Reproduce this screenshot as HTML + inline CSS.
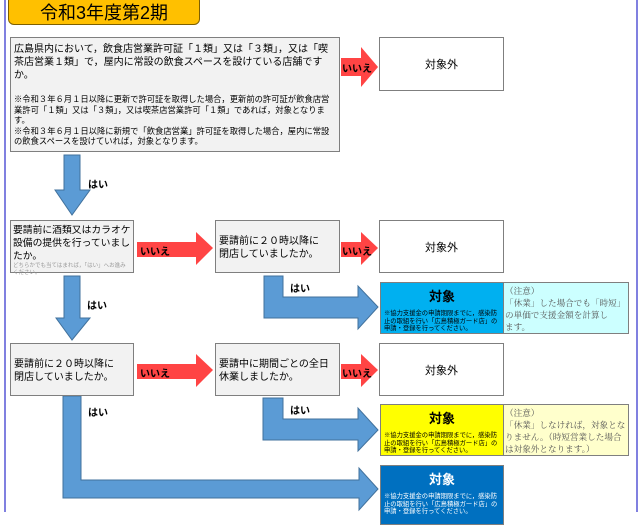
<!DOCTYPE html>
<html><head><meta charset="utf-8"><style>
body{margin:0;width:640px;height:512px;overflow:hidden;background:#fff;font-family:"Liberation Sans","Noto Sans CJK JP",sans-serif;position:relative}
.a{position:absolute;box-sizing:border-box}
.g{background:#f2f2f2;border:1px solid #7f7f7f;font-size:10px;line-height:13px;color:#000;padding:4px 3px}
.w{background:#fff;border:1px solid #7f7f7f;font-size:11px;display:flex;align-items:center;justify-content:center}
.t{border:1px solid #7f7f7f;text-align:center;font-size:6.3px;line-height:7.5px;text-align:left;padding:0 3px}
.t b{display:block;text-align:center;font-size:13px;line-height:16px;margin:6px 0 5px}
.n{border:1px solid #7f7f7f;font-family:"Liberation Serif","Noto Serif CJK SC",serif;font-size:8.6px;line-height:12px;color:#555;padding:2px 1px;white-space:nowrap;overflow:hidden}
.lb{position:absolute;font-size:10px;font-weight:bold}
</style></head><body>
<div class="a" style="left:4px;top:0;width:2px;height:512px;background:#8080e0"></div>
<div class="a" style="left:636px;top:0;width:2px;height:512px;background:#8080e0"></div>
<div class="a" style="left:8px;top:-5px;width:192px;height:30px;background:#ffc000;border:1px solid #7f6000;border-radius:6px;font-size:18px;display:flex;align-items:center;justify-content:center;padding-top:4px">令和3年度第2期</div>
<svg class="a" style="left:0;top:0" width="640" height="512">
<g fill="#ff4444">
<polygon points="341,58 361,58 361,47 378,67 361,87 361,76 341,76"/>
<polygon points="137,242 196,242 196,232 213,248 196,265 196,257 137,257"/>
<polygon points="341,242 361,242 361,232 378,248 361,265 361,257 341,257"/>
<polygon points="137,364 196,364 196,354 213,370 196,387 196,379 137,379"/>
<polygon points="341,364 361,364 361,354 378,370 361,387 361,379 341,379"/>
</g>
<g fill="#5b9bd5" stroke="#41719c" stroke-width="1">
<polygon points="64,155 80,155 80,190 90,190 72,215 55,190 64,190"/>
<polygon points="64,276 80,276 80,318 90,318 72,340 56,318 64,318"/>
<polygon points="264,276 283,276 283,297 358,297 358,286 378,307 358,329 358,318 264,318"/>
<polygon points="263,398 283,398 283,419 358,419 358,408 378,430 358,451 358,440 263,440"/>
<polygon points="63,396 81,396 81,480 359,480 359,468 378,489 359,510 359,498 63,498"/>
</g>
</svg>
<div class="lb" style="left:342px;top:60px">いいえ</div>
<div class="lb" style="left:140px;top:243px">いいえ</div>
<div class="lb" style="left:342px;top:243px">いいえ</div>
<div class="lb" style="left:140px;top:365px">いいえ</div>
<div class="lb" style="left:342px;top:365px">いいえ</div>
<div class="lb" style="left:88px;top:176px">はい</div>
<div class="lb" style="left:87px;top:297px">はい</div>
<div class="lb" style="left:290px;top:280px">はい</div>
<div class="lb" style="left:290px;top:402px">はい</div>
<div class="lb" style="left:88px;top:404px">はい</div>
<div class="a g" style="left:10px;top:37px;width:330px;height:115px;padding:5px 3px"><div style="font-size:10px;line-height:13px">広島県内において，飲食店営業許可証「１類」又は「３類」，又は「喫茶店営業１類」で，屋内に常設の飲食スペースを設けている店舗ですか。</div><div style="font-size:8.3px;line-height:10.5px;margin-top:12px">※令和３年６月１日以降に更新で許可証を取得した場合，更新前の許可証が飲食店営業許可「１類」又は「３類」，又は喫茶店営業許可「１類」であれば，対象となります。<br>※令和３年６月１日以降に新規で「飲食店営業」許可証を取得した場合，屋内に常設の飲食スペースを設けていれば，対象となります。</div></div>
<div class="a w" style="left:379px;top:37px;width:125px;height:54px">対象外</div>
<div class="a g" style="left:10px;top:220px;width:124px;height:53px;padding:3px 2px;font-size:9.8px;line-height:13px">要請前に酒類又はカラオケ設備の提供を行っていましたか。<div style="font-size:5.5px;line-height:6.5px;color:#999">どちらかでも当てはまれば，「はい」へお進みください。</div></div>
<div class="a g" style="left:215px;top:220px;width:125px;height:53px;padding-top:14px">要請前に２０時以降に<br>閉店していましたか。</div>
<div class="a w" style="left:379px;top:220px;width:125px;height:53px">対象外</div>
<div class="a t" style="left:380px;top:282px;width:124px;height:52px;background:#00b0f0"><b>対象</b>※協力支援金の申請期限までに，感染防止の取組を行い「広島積極ガード店」の申請・登録を行ってください。</div>
<div class="a n" style="left:503px;top:282px;width:126px;height:52px;background:#ccffff">（注意）<br>「休業」した場合でも「時短」<br>の単価で支援金額を計算し<br>ます。</div>
<div class="a g" style="left:10px;top:343px;width:124px;height:53px;padding-top:14px">要請前に２０時以降に<br>閉店していましたか。</div>
<div class="a g" style="left:215px;top:343px;width:125px;height:53px;padding-top:14px">要請中に期間ごとの全日<br>休業しましたか。</div>
<div class="a w" style="left:379px;top:343px;width:125px;height:53px">対象外</div>
<div class="a t" style="left:380px;top:404px;width:124px;height:52px;background:#ffff00"><b>対象</b>※協力支援金の申請期限までに，感染防止の取組を行い「広島積極ガード店」の申請・登録を行ってください。</div>
<div class="a n" style="left:503px;top:404px;width:126px;height:52px;background:#ffffcc">（注意）<br>「休業」しなければ，対象とな<br>りません。（時短営業した場合<br>は対象外となります。）</div>
<div class="a t" style="left:380px;top:465px;width:124px;height:60px;background:#0070c0;color:#fff"><b>対象</b>※協力支援金の申請期限までに，感染防止の取組を行い「広島積極ガード店」の申請・登録を行ってください。</div>
</body></html>
